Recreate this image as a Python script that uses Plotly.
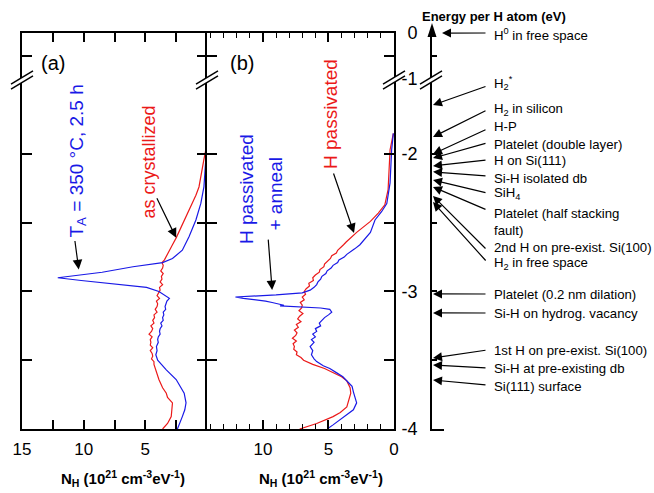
import plotly.graph_objects as go

# ---------------- data ----------------
# Panel (a): N_H (1e21 cm^-3 eV^-1) versus energy per H atom (eV)
a_red_E = [-1.86, -1.97, -2.04, -2.14, -2.24, -2.30, -2.36, -2.41, -2.46, -2.53, -2.61, -2.66, -2.70,
           -2.74, -2.77, -2.79, -2.81, -2.83, -2.85, -2.87, -2.89, -2.91, -2.93, -2.95, -2.97, -2.99,
           -3.01, -3.03, -3.05, -3.07, -3.09, -3.11, -3.13, -3.15, -3.17, -3.19, -3.21, -3.23, -3.25,
           -3.27, -3.29, -3.31, -3.33, -3.35, -3.37, -3.39, -3.41, -3.43, -3.45, -3.47, -3.49, -3.51,
           -3.53, -3.56, -3.60, -3.64, -3.70, -3.74, -3.77, -3.81, -3.86, -3.91, -3.96, -4.0]
a_red_N = [0.02, 0.1, 0.25, 0.42, 0.65, 0.9, 1.2, 1.45, 1.7, 2.05, 2.5, 2.8, 3.05,
           3.3, 3.45, 3.65, 3.55, 3.6, 3.75, 3.55, 3.7, 3.65, 3.8, 3.6, 3.85, 3.8,
           3.9, 4.05, 3.85, 4.1, 4.0, 4.05, 4.2, 4.05, 4.3, 4.25, 4.4, 4.3, 4.55,
           4.4, 4.5, 4.7, 4.45, 4.6, 4.55, 4.6, 4.4, 4.6, 4.45, 4.4, 4.5, 4.3,
           4.3, 4.2, 4.05, 3.9, 3.6, 3.3, 3.2, 2.8, 2.85, 2.9, 3.2, 3.6]
a_blue_E = [-1.85, -1.97, -2.04, -2.24, -2.36, -2.48, -2.60, -2.70, -2.76, -2.79, -2.82, -2.86,
            -2.89, -2.90, -2.92, -2.95, -2.97, -3.00, -3.05, -3.07, -3.09, -3.11, -3.13, -3.15,
            -3.17, -3.19, -3.21, -3.23, -3.25, -3.27, -3.29, -3.31, -3.33, -3.35, -3.37, -3.40,
            -3.43, -3.46, -3.50, -3.53, -3.57, -3.64, -3.70, -3.74, -3.81, -3.86, -3.91, -4.0]
a_blue_N = [0.02, 0.05, 0.1, 0.25, 0.5, 0.9, 1.45, 2.0, 2.8, 3.6, 6.0, 8.5,
            11.0, 12.1, 10.2, 7.0, 4.9, 3.9, 3.05, 3.25, 3.3, 3.4, 3.35, 3.55,
            3.5, 3.6, 3.55, 3.75, 3.65, 3.8, 3.85, 3.8, 3.95, 4.0, 3.95, 4.1,
            4.05, 4.15, 4.0, 3.7, 3.3, 2.5, 2.1, 1.85, 1.7, 1.8, 2.0, 2.4]

# Panel (b)
b_red_E = [-1.85, -1.97, -2.26, -2.37, -2.43, -2.49, -2.57, -2.60, -2.62, -2.64, -2.66, -2.68, -2.70,
           -2.72, -2.74, -2.76, -2.78, -2.80, -2.82, -2.84, -2.86, -2.88, -2.90, -2.92, -2.94, -2.96,
           -2.98, -3.00, -3.02, -3.04, -3.06, -3.08, -3.10, -3.12, -3.14, -3.16, -3.18, -3.20, -3.22,
           -3.24, -3.26, -3.28, -3.30, -3.32, -3.34, -3.36, -3.38, -3.40, -3.42, -3.44, -3.46, -3.48,
           -3.50, -3.53, -3.56, -3.59, -3.62, -3.65, -3.70, -3.74, -3.80, -3.84, -3.88, -3.91, -3.96,
           -4.0]
b_red_N = [0.05, 0.3, 0.45, 0.7, 1.2, 1.8, 2.85, 3.2, 3.5, 3.65, 3.85, 4.1, 4.3,
           4.4, 4.75, 4.85, 5.1, 5.3, 5.35, 5.65, 5.7, 6.0, 6.2, 6.15, 6.5, 6.45,
           6.7, 6.85, 6.75, 7.0, 6.85, 7.15, 7.0, 7.05, 7.25, 6.95, 7.2, 7.35, 7.1,
           7.45, 7.3, 7.6, 7.4, 7.5, 7.75, 7.45, 7.7, 7.6, 7.65, 7.4, 7.45, 7.1,
           6.9, 6.2, 5.3, 4.6, 4.0, 3.6, 3.35, 3.3, 3.45, 3.6, 4.1, 4.65, 5.9,
           7.2]
b_blue_E = [-1.85, -1.97, -2.21, -2.36, -2.42, -2.48, -2.57, -2.66, -2.69, -2.71, -2.73, -2.75,
            -2.77, -2.79, -2.81, -2.83, -2.85, -2.87, -2.89, -2.91, -2.93, -2.95, -2.97, -2.99,
            -3.01, -3.025, -3.035, -3.04, -3.05, -3.06, -3.07, -3.08, -3.09, -3.10, -3.105, -3.11,
            -3.115, -3.12, -3.13, -3.15, -3.17, -3.19, -3.21, -3.23, -3.25, -3.27, -3.29, -3.31,
            -3.33, -3.35, -3.37, -3.40, -3.43, -3.46, -3.49, -3.51, -3.54, -3.56, -3.59, -3.62,
            -3.66, -3.69, -3.73, -3.77, -3.81, -3.86, -3.92, -3.97, -4.0]
b_blue_N = [0.05, 0.18, 0.3, 0.55, 0.95, 1.45, 1.8, 2.6, 3.0, 3.3, 3.6, 3.8,
            4.2, 4.3, 4.65, 4.8, 5.1, 5.2, 5.5, 5.6, 5.8, 5.9, 6.1, 6.4,
            7.0, 9.0, 11.5, 12.1, 11.5, 10.6, 9.8, 9.3, 8.8, 8.4, 8.7, 7.8,
            7.2, 5.6, 4.9, 4.75, 5.0, 5.3, 5.5, 5.7, 5.6, 6.0, 5.9, 6.2,
            6.0, 6.3, 6.1, 6.4, 6.2, 6.3, 6.1, 5.9, 5.4, 4.9, 4.4, 3.9,
            3.5, 3.2, 3.1, 3.0, 2.85, 3.1, 3.9, 4.65, 5.1]

# Energy scale: labels, energies the arrows point at, and text row (px) of each label
levels = ["H<sup>0</sup> in free space", "H<sub>2</sub><sup>*</sup>", "H<sub>2</sub> in silicon", "H-P",
          "Platelet (double layer)", "H on Si(111)", "Si-H isolated db", "SiH<sub>4</sub>",
          "Platelet (half stacking<br>fault)", "2nd H on pre-exist. Si(100)", "H<sub>2</sub> in free space",
          "Platelet (0.2 nm dilation)", "Si-H on hydrog. vacancy", "1st H on pre-exist. Si(100)",
          "Si-H at pre-existing db", "Si(111) surface"]
level_E = [0.0, -1.644, -1.876, -2.0, -2.03, -2.087, -2.13, -2.19, -2.24, -2.305, -2.35,
           -3.018, -3.156, -3.484, -3.535, -3.644]
label_px = [34, 83, 109, 127, 144, 160, 178, 193, 222, 247, 263, 294, 313, 350, 368, 386]
tail_px = [33, 86, 110, 129, 143, 160, 176, 193, 210, 250, 262, 294, 313, 350, 368, 385]

# axis tick labels
ax_a_vals = [15, 12.5, 10, 7.5, 5, 2.5]
ax_a_text = ["15", "", "10", "", "5", ""]
ax_b_vals = [10, 5, 0]
ax_b_text = ["10", "5", "0"]
e_top_vals = [0, -0.5, -1]
e_top_text = ["0", "", "-1"]
e_bot_vals = [-2, -2.5, -3, -3.5, -4]
e_bot_text = ["-2", "", "-3", "", "-4"]

# ---------------- layout helpers ----------------
W, H = 654, 493
FONT = "Liberation Sans, Arial, sans-serif"
RED = "rgb(235,25,25)"
BLUE = "rgb(25,25,230)"


def px(x):
    return x / W


def py(y):
    return 1 - y / H


TOP_PX = (33, 80)
BOT_PX = (80, 429)
top_dom = [py(TOP_PX[1]), py(TOP_PX[0])]
bot_dom = [py(BOT_PX[1]), py(BOT_PX[0])]
top_rng = [-1.0217, 0.001]
bot_rng = [-4, -1.462]


def e_to_py(E):
    if E > -1.3:
        return TOP_PX[0] + (top_rng[1] - E) / (top_rng[1] - top_rng[0]) * (TOP_PX[1] - TOP_PX[0])
    return BOT_PX[0] + (bot_rng[1] - E) / (bot_rng[1] - bot_rng[0]) * (BOT_PX[1] - BOT_PX[0])


dom_a = [px(22), px(207)]
dom_b = [px(207), px(394)]
dom_e = [px(432), px(444)]

LW = 1.8
fig = go.Figure()

fig.add_trace(go.Scatter(x=a_red_N, y=a_red_E, mode="lines", line=dict(color=RED, width=1.2),
                         xaxis="x", yaxis="y", showlegend=False))
fig.add_trace(go.Scatter(x=a_blue_N, y=a_blue_E, mode="lines", line=dict(color=BLUE, width=1.2),
                         xaxis="x", yaxis="y", showlegend=False))
fig.add_trace(go.Scatter(x=b_red_N, y=b_red_E, mode="lines", line=dict(color=RED, width=1.2),
                         xaxis="x3", yaxis="y3", showlegend=False))
fig.add_trace(go.Scatter(x=b_blue_N, y=b_blue_E, mode="lines", line=dict(color=BLUE, width=1.2),
                         xaxis="x3", yaxis="y3", showlegend=False))
for xa, ya in [("x2", "y2"), ("x4", "y4"), ("x5", "y5"), ("x6", "y6"), ("x", "y7"), ("x2", "y8")]:
    fig.add_trace(go.Scatter(x=[None], y=[None], xaxis=xa, yaxis=ya, showlegend=False))

common = dict(showgrid=False, zeroline=False, linecolor="black", linewidth=LW,
              tickcolor="black", tickwidth=1.5, automargin=False)
tickfont = dict(family=FONT, size=17, color="black")
minor_b = dict(tickmode="linear", tick0=0, dtick=1, ticks="inside", ticklen=5, tickcolor="black", tickwidth=1.2)

layout = dict(
    template="none",
    width=W, height=H, margin=dict(l=0, r=0, t=0, b=0, pad=0, autoexpand=False),
    paper_bgcolor="white", plot_bgcolor="rgba(0,0,0,0)", showlegend=False,
    font=dict(family=FONT, color="black"),
    # panel (a)
    xaxis=dict(domain=dom_a, anchor="y", range=[15, 0], showline=True, side="bottom", ticks="inside",
               ticklen=9, tickmode="array", tickvals=ax_a_vals, ticktext=ax_a_text, tickfont=tickfont,
               ticklabelstandoff=4, **common),
    xaxis2=dict(domain=dom_a, anchor="y2", range=[15, 0], showline=True, side="top", ticks="inside",
                ticklen=9, tickmode="array", tickvals=ax_a_vals, showticklabels=False, **common),
    yaxis=dict(domain=bot_dom, anchor="x", range=bot_rng, showline=True, mirror=False,
               ticks="inside", ticklen=10, tickmode="array", tickvals=e_bot_vals, showticklabels=False,
               **common),
    yaxis2=dict(domain=top_dom, anchor="x2", range=top_rng, showline=True, mirror=False,
                ticks="inside", ticklen=10, tickmode="array", tickvals=[-0.5], showticklabels=False,
                **common),
    # right-hand (left-pointing) ticks of panel (a), no line
    yaxis7=dict(overlaying="y", anchor="x", side="right", range=bot_rng, showline=False,
                ticks="inside", ticklen=10, tickmode="array", tickvals=e_bot_vals, showticklabels=False,
                showgrid=False, zeroline=False, tickcolor="black", tickwidth=1.5, automargin=False),
    yaxis8=dict(overlaying="y2", anchor="x2", side="right", range=top_rng, showline=False,
                ticks="inside", ticklen=10, tickmode="array", tickvals=[-0.5], showticklabels=False,
                showgrid=False, zeroline=False, tickcolor="black", tickwidth=1.5, automargin=False),
    # panel (b)
    xaxis3=dict(domain=dom_b, anchor="y3", range=[14.27, 0], showline=True, side="bottom", ticks="inside",
                ticklen=9, tickmode="array", tickvals=ax_b_vals, ticktext=ax_b_text, tickfont=tickfont,
                ticklabelstandoff=4, minor=minor_b, **common),
    xaxis4=dict(domain=dom_b, anchor="y4", range=[14.27, 0], showline=True, side="top", ticks="inside",
                ticklen=9, tickmode="array", tickvals=ax_b_vals, showticklabels=False, minor=minor_b,
                **common),
    yaxis3=dict(domain=bot_dom, anchor="x3", range=bot_rng, showline=True, mirror="allticks",
                ticks="inside", ticklen=10, tickmode="array", tickvals=e_bot_vals, showticklabels=False,
                **common),
    yaxis4=dict(domain=top_dom, anchor="x4", range=top_rng, showline=True, mirror="allticks",
                ticks="inside", ticklen=10, tickmode="array", tickvals=[-0.5], showticklabels=False,
                **common),
    # energy scale
    xaxis5=dict(domain=dom_e, anchor="y5", range=[0, 1.2], showline=True, ticks="", showticklabels=False,
                **common),
    xaxis6=dict(domain=dom_e, anchor="y6", range=[0, 1.2], visible=False),
    yaxis5=dict(domain=bot_dom, anchor="x5", range=bot_rng, showline=True, side="left", ticks="inside",
                ticklen=5, tickmode="array", tickvals=e_bot_vals, ticktext=e_bot_text,
                tickfont=dict(family=FONT, size=18, color="black"), ticklabelstandoff=9, **common),
    yaxis6=dict(domain=top_dom, anchor="x6", range=top_rng, showline=True, side="left", ticks="inside",
                ticklen=5, tickmode="array", tickvals=e_top_vals, ticktext=e_top_text,
                tickfont=dict(family=FONT, size=18, color="black"), ticklabelstandoff=9, **common),
)
fig.update_layout(**layout)

shapes = []
# axis break marks
for xc in [22, 207, 394, 431]:
    yc = 80
    pts = [(xc - 10, yc + 3.5), (xc + 10, yc - 8.5), (xc + 10, yc - 3.5), (xc - 10, yc + 8.5)]
    path = "M {} {} L {} {} L {} {} L {} {} Z".format(*[v for p in pts for v in (px(p[0]), py(p[1]))])
    shapes.append(dict(type="path", path=path, xref="paper", yref="paper", fillcolor="white",
                       line=dict(width=0), layer="above"))
    for d in (0, 5):
        shapes.append(dict(type="line", xref="paper", yref="paper", x0=px(xc - 11), y0=py(yc + 4.1 + d),
                           x1=px(xc + 11), y1=py(yc - 9.1 + d), line=dict(color="black", width=1.5),
                           layer="above"))
# arrow tip on top of the energy axis
tri = [(432, 23), (436.5, 37), (427.5, 37)]
shapes.append(dict(type="path", xref="paper", yref="paper", fillcolor="black", line=dict(width=0),
                   path="M {} {} L {} {} L {} {} Z".format(*[v for p in tri for v in (px(p[0]), py(p[1]))])))
fig.update_layout(shapes=shapes)

ann = []
# panel labels
for t, xx in (("(a)", 53), ("(b)", 242)):
    ann.append(dict(text=t, x=px(xx), y=py(63), xref="paper", yref="paper", showarrow=False,
                    xanchor="center", yanchor="middle", font=dict(size=20, family=FONT)))
# rotated curve labels
rot = [("T<sub>A</sub> = 350 °C, 2.5 h", 77, 240, BLUE, 19),
       ("as crystallized", 148, 221, RED, 18),
       ("H passivated", 247, 246, BLUE, 19),
       ("+ anneal", 275, 233, BLUE, 19),
       ("H passivated", 330, 171, RED, 19)]
for t, xx, yy, c, fs in rot:
    ann.append(dict(text=t, x=px(xx), y=py(yy), xref="paper", yref="paper", showarrow=False,
                    textangle=-90, xanchor="center", yanchor="bottom", font=dict(size=fs, color=c, family=FONT)))
# curve arrows (head in data coords, tail offset in px)
carrows = [("x", "y", 10.4, -2.84, -4, -30), ("x", "y", 2.5, -2.61, -20, -41),
           ("x3", "y3", 9.3, -2.99, -4, -52), ("x3", "y3", 3.05, -2.575, -21, -61)]
for xr, yr, hx, hy, dx, dy in carrows:
    ann.append(dict(text="", x=hx, y=hy, xref=xr, yref=yr, ax=dx, ay=dy, showarrow=True,
                    arrowhead=2, arrowsize=1.6, arrowwidth=1.2, arrowcolor="black", standoff=0))
# energy levels
for lab, E, lp, tp in zip(levels, level_E, label_px, tail_px):
    xr, yr = ("x6", "y6") if E > -1.3 else ("x5", "y5")
    hx = 1.0 if E == 0 else 0.1
    hy_px = e_to_py(E)
    ann.append(dict(text="", x=hx, y=E, xref=xr, yref=yr, ax=487 - (432 + 10 * hx), ay=tp - hy_px,
                    showarrow=True, arrowhead=2, arrowsize=1.5, arrowwidth=1.2, arrowcolor="black",
                    standoff=0))
    ann.append(dict(text=lab, x=px(492), y=py(lp), xref="paper", yref="paper", showarrow=False,
                    xanchor="left", yanchor="middle", align="left",
                    font=dict(size=13.2, family=FONT, color="black")))
# titles
ann.append(dict(text="<b>Energy per H atom (eV)</b>", x=px(494), y=py(16), xref="paper", yref="paper",
                showarrow=False, xanchor="center", yanchor="middle", font=dict(size=13, family=FONT)))
xt = "<b>N<sub>H</sub> (10<sup>21</sup> cm<sup>-3</sup>eV<sup>-1</sup>)</b>"
for xc in (123, 321):
    ann.append(dict(text=xt, x=px(xc), y=py(478), xref="paper", yref="paper", showarrow=False,
                    xanchor="center", yanchor="middle", font=dict(size=15, family=FONT)))
fig.update_layout(annotations=ann)

fig.write_html("out.html")
